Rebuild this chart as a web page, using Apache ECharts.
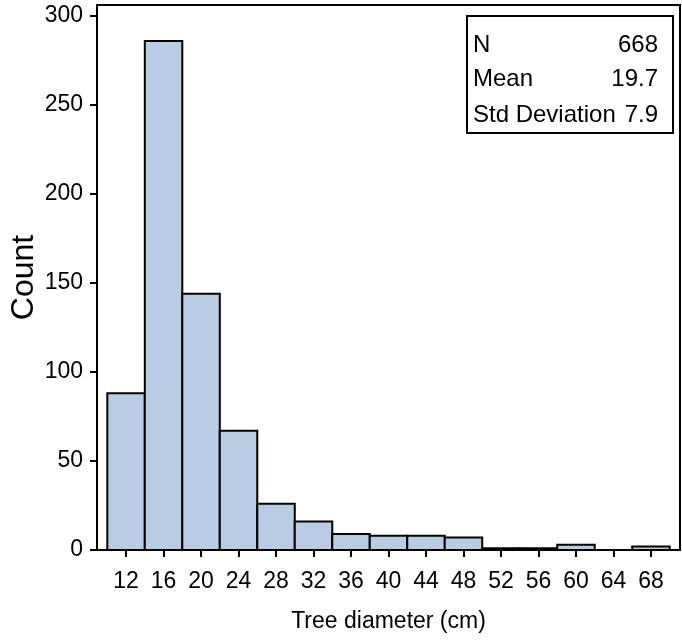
<!DOCTYPE html>
<html>
<head>
<meta charset="utf-8">
<script src="https://cdn.jsdelivr.net/npm/echarts@6/dist/echarts.min.js"></script>
<style>
  html, body { margin: 0; padding: 0; background: #fff; }
  #chart { width: 682px; height: 640px; }
</style>
</head>
<body>
<div id="chart"></div>
<script>
// Histogram of tree diameters, 4 cm bins labelled by their centre
const binCenters = [12, 16, 20, 24, 28, 32, 36, 40, 44, 48, 52, 56, 60, 64, 68];
const counts     = [88, 286, 144, 67, 26, 16, 9, 8, 8, 7, 1, 1, 3, 0, 2];
const binWidth = 4;
const yTicks = [0, 50, 100, 150, 200, 250, 300];

// Summary statistics shown in the inset box
const statLabels = ['N', 'Mean', 'Std Deviation'];
const statValues = ['668', '19.7', '7.9'];

const FONT = '"Liberation Sans", Arial, sans-serif';
const BAR_FILL = '#b8cde4';

const histData = binCenters.map((c, i) => [c - binWidth / 2, c + binWidth / 2, counts[i]]);

function renderBin(params, api) {
  const h = api.value(2);
  if (!h) return null;
  const topLeft = api.coord([api.value(0), h]);
  const bottomRight = api.coord([api.value(1), 0]);
  return {
    type: 'rect',
    shape: {
      x: topLeft[0],
      y: topLeft[1],
      width: bottomRight[0] - topLeft[0],
      height: bottomRight[1] - topLeft[1]
    },
    style: { fill: BAR_FILL, stroke: '#000', lineWidth: 2 }
  };
}

const chart = echarts.init(document.getElementById('chart'), null, { renderer: 'canvas' });

const boxX = 467, boxY = 16, boxW = 206, boxH = 117;
const rowY = [45, 79, 115];
const statGraphics = [{
  type: 'rect',
  shape: { x: boxX, y: boxY, width: boxW, height: boxH },
  style: { fill: '#fff', stroke: '#000', lineWidth: 2 },
  z: 10
}];
statLabels.forEach((lab, i) => {
  statGraphics.push({
    type: 'text', x: boxX + 6, y: rowY[i], z: 11,
    style: { text: lab, font: '24px ' + FONT, fill: '#000', textAlign: 'left', textVerticalAlign: 'middle' }
  });
  statGraphics.push({
    type: 'text', x: boxX + 191, y: rowY[i], z: 11,
    style: { text: statValues[i], font: '24px ' + FONT, fill: '#000', textAlign: 'right', textVerticalAlign: 'middle' }
  });
});

chart.setOption({
  animation: false,
  backgroundColor: '#fff',
  textStyle: { fontFamily: FONT },
  grid: {
    left: 97, right: 2, top: 5, bottom: 90,
    containLabel: false,
    outerBoundsMode: 'none',
    show: true, borderColor: '#000', borderWidth: 2, backgroundColor: 'transparent'
  },
  xAxis: {
    type: 'value',
    min: 8.9,
    max: 71.1,
    name: 'Tree diameter (cm)',
    nameLocation: 'middle',
    nameGap: 60,
    nameMoveOverlap: false,
    nameTextStyle: { fontSize: 23, color: '#000', fontFamily: FONT },
    axisLine: { show: true, lineStyle: { color: '#000', width: 2 } },
    axisTick: { show: true, length: 7, lineStyle: { color: '#000', width: 2 }, customValues: binCenters },
    axisLabel: { fontSize: 23, color: '#000', margin: 20, fontFamily: FONT, customValues: binCenters },
    splitLine: { show: false }
  },
  yAxis: {
    type: 'value',
    min: 0,
    max: 306.2,
    name: 'Count',
    nameLocation: 'middle',
    nameGap: 57,
    nameMoveOverlap: false,
    nameTextStyle: { fontSize: 32, color: '#000', fontFamily: FONT },
    axisLine: { show: true, lineStyle: { color: '#000', width: 2 } },
    axisTick: { show: true, length: 7, lineStyle: { color: '#000', width: 2 }, customValues: yTicks },
    axisLabel: { fontSize: 23, color: '#000', margin: 14, fontFamily: FONT, customValues: yTicks },
    splitLine: { show: false }
  },
  series: [{
    type: 'custom',
    renderItem: renderBin,
    encode: { x: [0, 1], y: 2 },
    data: histData,
    clip: false
  }],
  graphic: statGraphics
});
</script>
</body>
</html>
